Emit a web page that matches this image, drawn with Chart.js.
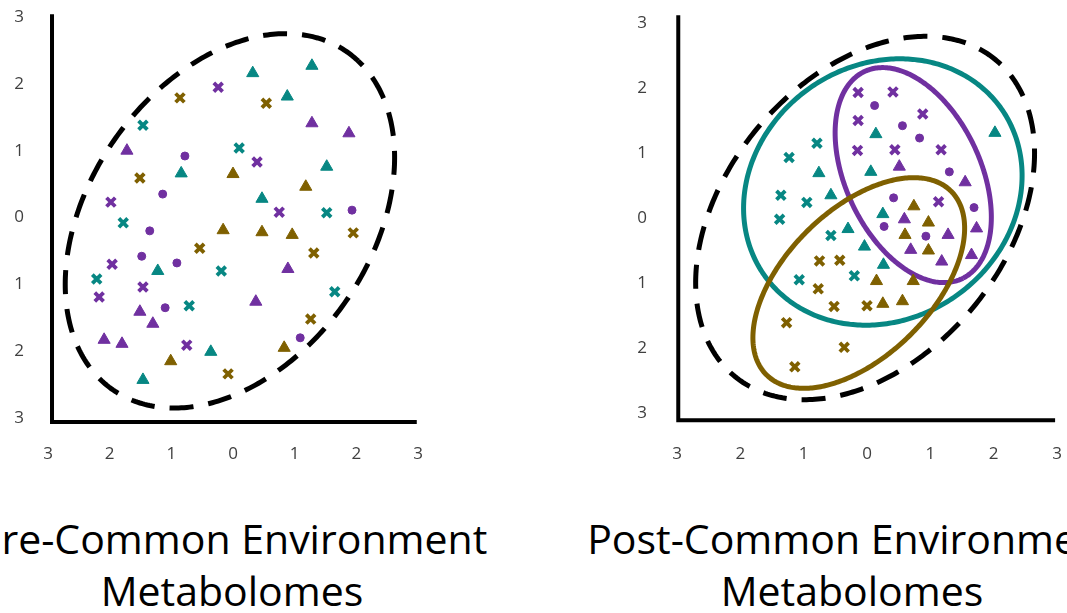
<!DOCTYPE html>
<html><head><meta charset="utf-8">
<script src="https://cdn.jsdelivr.net/npm/chart.js@4.4.1/dist/chart.umd.min.js"></script>
<style>
html,body{margin:0;padding:0;background:#fff;width:1067px;height:613px;overflow:hidden;position:relative;}
#c1{position:absolute;left:0;top:0;}
#c2{position:absolute;left:600px;top:0;}
.title{position:absolute;width:1000px;text-align:center;white-space:nowrap;font-family:'Open Sans',sans-serif;font-size:41px;line-height:52px;color:#000;top:512px;}
</style></head><body>
<canvas id="c1" width="445" height="480"></canvas>
<canvas id="c2" width="467" height="480"></canvas>
<div class="title" style="left:-268px">Pre-Common Environment<br>Metabolomes</div>
<div class="title" style="left:352px">Post-Common Environment<br>Metabolomes</div>
<script>
// ---- tick labels (signs are not shown in the figure) ----
const tickLabels = ['3','2','1','0','1','2','3'];

// ---- Pre-Common Environment points [x, y] ----
const preTealTri   = [[0.32,2.16],[1.28,2.27],[0.88,1.81],[-0.84,0.66],[1.52,0.76],[0.47,0.28],[-1.22,-0.80],[-0.36,-2.01],[-1.46,-2.43]];
const preTealX     = [[-1.46,1.38],[0.10,1.04],[1.52,0.07],[-1.78,-0.08],[-0.19,-0.80],[-2.21,-0.92],[1.65,-1.11],[-0.71,-1.32]];
const prePurpleTri = [[1.28,1.41],[1.88,1.26],[-1.72,1.00],[0.89,-0.77],[0.37,-1.26],[-1.51,-1.41],[-1.30,-1.59],[-2.09,-1.83],[-1.80,-1.89]];
const prePurpleX   = [[-0.24,1.95],[0.39,0.83],[-1.98,0.23],[0.75,0.08],[-1.96,-0.70],[-1.46,-1.04],[-2.17,-1.19],[-0.75,-1.91]];
const prePurpleDot = [[-0.78,0.92],[-1.14,0.35],[1.93,0.11],[-1.35,-0.20],[-1.48,-0.58],[-0.91,-0.68],[-1.10,-1.35],[1.09,-1.80]];
const preBrownTri  = [[0.00,0.65],[1.18,0.46],[-0.16,-0.19],[0.47,-0.22],[0.96,-0.26],[0.83,-1.95],[-1.01,-2.15]];
const preBrownX    = [[-0.86,1.79],[0.54,1.71],[-1.51,0.59],[1.95,-0.23],[-0.54,-0.46],[1.31,-0.53],[1.26,-1.52],[-0.08,-2.34]];

// ---- Post-Common Environment points [x, y] ----
const postTealTri   = [[0.14,1.29],[2.02,1.31],[0.06,0.71],[-0.76,0.69],[-0.57,0.35],[0.25,0.06],[-0.30,-0.17],[-0.04,-0.44],[0.26,-0.72]];
const postTealX     = [[-0.79,1.15],[-1.23,0.93],[-1.36,0.35],[-0.95,0.24],[-1.38,-0.02],[-0.57,-0.27],[-0.20,-0.89],[-1.07,-0.95]];
const postPurpleTri = [[0.51,0.79],[1.55,0.55],[0.59,-0.02],[1.73,-0.16],[1.28,-0.26],[0.69,-0.49],[1.65,-0.57],[1.18,-0.67]];
const postPurpleX   = [[-0.14,1.93],[0.41,1.94],[0.88,1.60],[-0.14,1.50],[-0.15,1.04],[0.44,1.05],[1.17,1.05],[1.13,0.25]];
const postPurpleDot = [[0.12,1.73],[0.56,1.42],[0.83,1.23],[1.30,0.71],[0.42,0.31],[1.69,0.16],[0.27,-0.13],[0.93,-0.28]];
const postBrownTri  = [[0.74,0.18],[0.97,-0.07],[0.60,-0.26],[0.97,-0.50],[0.15,-0.97],[0.73,-0.97],[0.25,-1.32],[0.56,-1.28]];
const postBrownX    = [[-0.75,-0.66],[-0.43,-0.65],[-0.77,-1.09],[-0.52,-1.36],[0.00,-1.35],[-1.27,-1.61],[-0.36,-1.99],[-1.14,-2.29]];

// ---- group ellipses: [centerX, centerY, semiAxisA, semiAxisB, angleDeg] ----
const preAllEllipse     = [-0.05, -0.05, 3.17, 2.22, 49];
const postAllEllipse    = [-0.03, 0.00, 3.19, 2.19, 48.5];
const postTealEllipse   = [0.25, 0.40, 2.27, 1.97, 30];
const postPurpleEllipse = [0.73, 0.66, 1.77, 1.06, -63.6];
const postBrownEllipse  = [-0.13, -1.00, 2.03, 1.14, 43.3];

const TEAL = '#078783', PURPLE = '#7030A0', BROWN = '#7F6000';

function pts(a){ return a.map(p => ({x:p[0], y:p[1]})); }
function ds(data, color, shape){
  const base = {data: pts(data), showLine:false, pointStyle: shape,
    pointBackgroundColor: color, pointBorderColor: color, pointHoverRadius: 0};
  if (shape === 'triangle') return Object.assign(base,{pointRadius:7, pointBorderWidth:1});
  if (shape === 'crossRot') return Object.assign(base,{pointRadius:6.2, pointBorderWidth:3.8});
  return Object.assign(base,{pointRadius:4, pointBorderWidth:1});
}

function decor(ellipses, axis){
  return {
    id:'decor',
    beforeDatasetsDraw(chart){
      const {ctx, scales:{x, y}} = chart;
      ellipses.forEach(e => {
        const [cx, cy, a, b, deg] = e.shape;
        const r = deg*Math.PI/180, c = Math.cos(r), s = Math.sin(r);
        ctx.save();
        ctx.beginPath();
        const N = 360;
        for (let i = 0; i <= N; i++){
          const t = i/N*2*Math.PI, dx = a*Math.cos(t), dy = b*Math.sin(t);
          const px = x.getPixelForValue(cx + dx*c - dy*s), py = y.getPixelForValue(cy + dx*s + dy*c);
          if (i) ctx.lineTo(px, py); else ctx.moveTo(px, py);
        }
        ctx.lineWidth = e.width; ctx.strokeStyle = e.color; ctx.setLineDash(e.dash || []);
        ctx.lineCap = 'butt';
        ctx.stroke();
        ctx.restore();
      });
      ctx.save();
      ctx.beginPath();
      ctx.moveTo(x.getPixelForValue(axis.x), y.getPixelForValue(axis.top));
      ctx.lineTo(x.getPixelForValue(axis.x), y.getPixelForValue(axis.y));
      ctx.lineTo(x.getPixelForValue(axis.right), y.getPixelForValue(axis.y));
      ctx.lineWidth = 4; ctx.strokeStyle = '#000'; ctx.lineJoin = 'miter'; ctx.lineCap = 'butt';
      ctx.stroke();
      ctx.restore();
    }
  };
}

function zeroPad(s){ s.paddingLeft = 0; s.paddingRight = 0; s.paddingTop = 0; s.paddingBottom = 0; }

function makeChart(id, datasets, ellipses, axis, L){
  const tickFont = {family:'Open Sans', size:17};
  new Chart(document.getElementById(id), {
    type:'scatter',
    data:{datasets},
    options:{
      responsive:false, animation:false, events:[],
      layout:{autoPadding:false, padding:{left:0, top:L.top, right:L.right, bottom:0}},
      plugins:{legend:{display:false}, tooltip:{enabled:false}, title:{display:false}},
      scales:{
        x:{type:'linear', min:-3, max:3,
           grid:{display:false, drawTicks:false}, border:{display:false},
           ticks:{stepSize:1, font:tickFont, color:'#404040', padding:L.xpad, maxRotation:0,
                  callback:(v,i)=>tickLabels[i]},
           afterFit:(s)=>{ s.height = L.xh; zeroPad(s); }},
        y:{type:'linear', min:-3, max:3,
           grid:{display:false, drawTicks:false}, border:{display:false},
           ticks:{stepSize:1, font:tickFont, color:'#404040', padding:L.ypad,
                  callback:(v,i)=>tickLabels[i]},
           afterFit:(s)=>{ s.width = L.yw; zeroPad(s); }}
      }
    },
    plugins:[decor(ellipses, axis)]
  });
}

makeChart('c1', [
  ds(preTealTri, TEAL, 'triangle'), ds(preTealX, TEAL, 'crossRot'),
  ds(prePurpleTri, PURPLE, 'triangle'), ds(prePurpleX, PURPLE, 'crossRot'), ds(prePurpleDot, PURPLE, 'circle'),
  ds(preBrownTri, BROWN, 'triangle'), ds(preBrownX, BROWN, 'crossRot')
], [
  {shape: preAllEllipse, color:'#000', width:5, dash:[24,15]}
], {x:-2.935, y:-3.06, top:3.04, right:2.98},
{top:17, right:27, xh:62, yw:48, xpad:26, ypad:24});

makeChart('c2', [
  ds(postTealTri, TEAL, 'triangle'), ds(postTealX, TEAL, 'crossRot'),
  ds(postPurpleTri, PURPLE, 'triangle'), ds(postPurpleX, PURPLE, 'crossRot'), ds(postPurpleDot, PURPLE, 'circle'),
  ds(postBrownTri, BROWN, 'triangle'), ds(postBrownX, BROWN, 'crossRot')
], [
  {shape: postAllEllipse, color:'#000', width:5, dash:[24,15]},
  {shape: postTealEllipse, color:TEAL, width:5},
  {shape: postPurpleEllipse, color:PURPLE, width:5},
  {shape: postBrownEllipse, color:BROWN, width:5}
], {x:-2.98, y:-3.11, top:3.12, right:2.97},
{top:23, right:10, xh:67, yw:77, xpad:31, ypad:30});
</script>
</body></html>
